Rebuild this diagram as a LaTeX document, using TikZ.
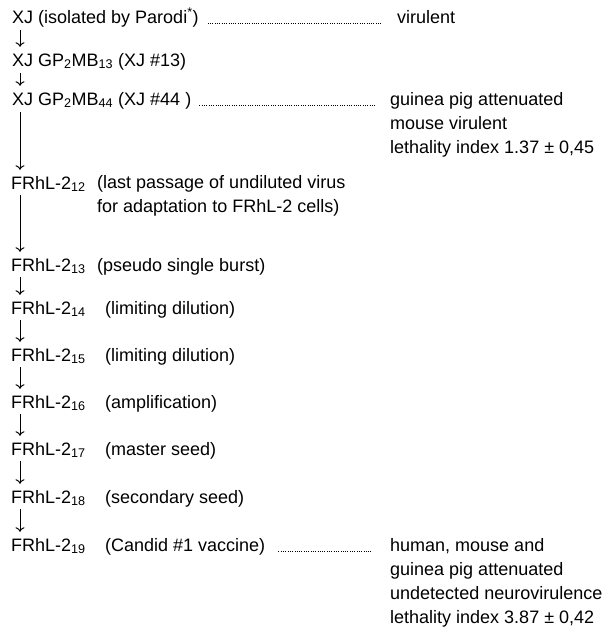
\documentclass[tikz,border=0pt]{standalone}
\usepackage{fontspec}
\setmainfont{Liberation Sans}
\usetikzlibrary{positioning,arrows.meta}

\begin{document}
\begin{tikzpicture}[x=1pt,y=-1pt,
  every node/.style={inner sep=0pt,anchor=base west,font=\fontsize{18}{24}\selectfont},
  note/.style={align=left},
  flow/.style={-{To[length=4.5pt,width=9pt]},line width=1pt,shorten <=3pt,shorten >=6pt},
  leader/.style={line width=0.7pt,dash pattern=on 0.7pt off 1.6pt}]
  \useasboundingbox (0,0) rectangle (604,632);

  % strain history
  \node (xj) at (12,23) {XJ (isolated by Parodi\textsuperscript{*})};
  \node (gp13) at (12,66) {XJ GP\textsubscript{2}MB\textsubscript{13} (XJ \#13)};
  \node (gp44) at (12,105) {XJ GP\textsubscript{2}MB\textsubscript{44} (XJ \#44 )};

  \node (f12) at (11,189) {FRhL-2\textsubscript{12}};
  \node (f12n) at (97,212) [note] {(last passage of undiluted virus\\for adaptation to FRhL-2 cells)};
  \node (f13) at (11,271) {FRhL-2\textsubscript{13}};
  \node (f13n) at (97,271) {(pseudo single burst)};
  \node (f14) at (11,314) {FRhL-2\textsubscript{14}};
  \node (f14n) at (105,314) {(limiting dilution)};
  \node (f15) at (11,361) {FRhL-2\textsubscript{15}};
  \node (f15n) at (105,361) {(limiting dilution)};
  \node (f16) at (11,408) {FRhL-2\textsubscript{16}};
  \node (f16n) at (105,408) {(amplification)};
  \node (f17) at (11,455) {FRhL-2\textsubscript{17}};
  \node (f17n) at (105,455) {(master seed)};
  \node (f18) at (11,503) {FRhL-2\textsubscript{18}};
  \node (f18n) at (105,503) {(secondary seed)};
  \node (f19) at (11,551) {FRhL-2\textsubscript{19}};
  \node (f19n) at (105,551) {(Candid \#1 vaccine)};

  % properties (base = last line)
  \node (vir) at (397,23) {virulent};
  \node (att) at (390,153) [note] {guinea pig attenuated\\mouse virulent\\lethality index 1.37 ± 0,45};
  \node (hum) at (390,623) [note] {human, mouse and\\guinea pig attenuated\\undetected neurovirulence\\lethality index 3.87 ± 0,42};
  \coordinate (attin) at (att.west |- gp44.base);
  \coordinate (humin) at (hum.west |- f19n.base);

  \draw[flow] ([xshift=8pt]xj.south west) -- ([xshift=8pt]gp13.north west);
  \draw[flow] ([xshift=8pt]gp13.south west) -- ([xshift=8pt]gp44.north west);
  \draw[flow] ([xshift=8pt]gp44.south west) -- ([xshift=9pt]f12.north west);
  \draw[flow] ([xshift=9pt]f12.south west) -- ([xshift=9pt]f13.north west);
  \foreach \a/\b in {13/14,14/15,15/16,16/17,17/18,18/19}
    \draw[flow] ([xshift=9pt]f\a.south west) -- ([xshift=9pt]f\b.north west);

  \draw[leader] ([xshift=9pt]xj.base east) -- ([xshift=-15pt]vir.base west);
  \draw[leader] ([xshift=8pt]gp44.base east) -- ([xshift=-15pt]attin);
  \draw[leader] ([xshift=13pt]f19n.base east) -- ([xshift=-18pt]humin);
\end{tikzpicture}
\end{document}
